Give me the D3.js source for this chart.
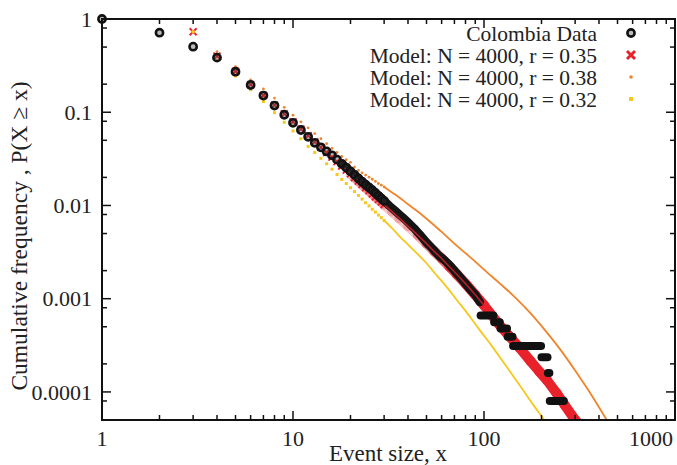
<!DOCTYPE html>
<html>
<head>
<meta charset="utf-8">
<script src="https://cdn.jsdelivr.net/npm/d3@7"></script>
<style>
  body { margin: 0; background: #fff; }
  svg { display: block; }
</style>
</head>
<body>
<script>
// Colombia data: P(X >= x) at each event size
const dataX = [1,2,3,4,5,6,7,8,9,10,11,12,13,14,15,16,17,18,19,20,21,22,23,24,25,26,27,28,29,30,
  32,34,36,38,40,43,46,50,54,58,62,66,70,75,80,85,90,95];
const dataP = [1,0.713,0.505,0.385,0.272,0.196,0.151,0.118,0.094,0.077,0.0645,0.0545,0.047,0.042,0.038,
  0.0345,0.031,0.028,0.0255,0.0232,0.0213,0.0195,0.018,0.0167,0.0156,0.0146,0.0136,0.0127,0.0119,0.0112,
  0.0099,0.0089,0.008,0.0073,0.0066,0.0057,0.0049,0.004,0.0034,0.0029,0.0026,0.0023,0.002,0.0017,
  0.00145,0.00125,0.0011,0.00092];
// tail plateaus of the data (from, to, P)
const stepFrom = [96,113,122,133,142,200,216,221];
const stepTo   = [112,121,132,141,199,215,220,262];
const stepP    = [6.6e-4,5.6e-4,4.8e-4,3.9e-4,3.1e-4,2.35e-4,1.6e-4,8e-5];

// Model N = 4000, r = 0.35
const redX = [3,4,5,6,7,8,9,10,11,12,13,14,15,16,17,18,19,20,21,22,23,24,25,26,27,28,29,30,
  33,36,40,45,50,55,60,66,72,80,90,100,107,120,135,154,175,195,214,240,265,292,320];
const redP = [0.73,0.40,0.275,0.198,0.152,0.119,0.096,0.079,0.066,0.056,0.048,0.042,0.037,0.033,0.0295,
  0.0265,0.024,0.0218,0.0199,0.0182,0.0168,0.0155,0.0144,0.0133,0.0124,0.0116,0.0109,0.0102,
  0.0086,0.0073,0.006,0.0048,0.0039,0.0032,0.0027,0.0022,0.00183,0.00145,0.0011,0.00085,0.00071,
  0.00053,0.0004,0.000295,0.000215,0.000165,0.000133,0.000097,0.000072,0.000054,0.000043];

// Model N = 4000, r = 0.38
const orangeX = [3,4,5,6,7,8,9,10,11,12,13,14,15,16,17,18,19,20,21,22,23,24,25,26,27,28,29,30,
  33,36,40,45,50,55,60,70,80,90,100,120,145,175,210,250,300,350,400,446,480];
const orangeP = [0.73,0.446,0.308,0.222,0.178,0.142,0.113,0.093,0.079,0.068,0.059,0.052,0.046,0.041,0.037,
  0.0335,0.031,0.029,0.0258,0.0238,0.0224,0.0212,0.0201,0.0191,0.0181,0.0172,0.0165,0.0158,
  0.0138,0.0122,0.0103,0.0086,0.0072,0.0061,0.0052,0.0039,0.00308,0.0025,0.00205,0.00148,0.00104,
  0.00070,0.000452,0.000288,0.00017,0.000106,0.0000685,0.0000475,0.000037];

// Model N = 4000, r = 0.32
const yellowX = [3,4,5,6,7,8,9,10,11,12,13,14,15,16,17,18,19,20,21,22,23,24,25,26,27,28,29,30,
  33,36,40,45,50,55,60,66,72,80,88,95,110,125,140,160,180,204,220];
const yellowP = [0.73,0.36,0.245,0.174,0.13,0.099,0.078,0.063,0.052,0.043,0.037,0.032,0.028,0.0245,0.0215,
  0.019,0.0172,0.0155,0.0141,0.0128,0.0117,0.0107,0.0099,0.0091,0.0085,0.0079,0.0074,0.0069,
  0.0057,0.0047,0.0038,0.003,0.0024,0.0019,0.00155,0.00122,0.00097,0.00074,0.00057,0.00046,
  0.00031,0.000215,0.000155,0.000105,0.000074,0.000052,0.000042];

const xTicks = [1,10,100,1000];
const xTickLabels = ["1","10","100","1000"];
const yTicks = [1,0.1,0.01,0.001,0.0001];
const yTickLabels = ["1","0.1","0.01","0.001","0.0001"];
const legendLabels = ["Colombia Data","Model: N = 4000, r = 0.35","Model: N = 4000, r = 0.38","Model: N = 4000, r = 0.32"];

const W = 677, H = 465;
const red = "#e8212b", orange = "#f0842a", yellow = "#f6c81c";
const font = "Liberation Serif, Times New Roman, serif";

const x = d3.scaleLog().domain([1,1000]).range([102,675]);
const y = d3.scaleLog().domain([5e-5,1]).range([420,19]);

const svg = d3.select("body").append("svg").attr("width", W).attr("height", H);
svg.append("rect").attr("width", W).attr("height", H).attr("fill", "#fff");

svg.append("clipPath").attr("id","plot")
  .append("rect").attr("x",102).attr("y",19).attr("width",573).attr("height",401);

const zip = (xs, ps) => xs.map((v,i) => ({x:v, p:ps[i]}));
const data = zip(dataX, dataP);
const redPts = zip(redX, redP);
const orangePts = zip(orangeX, orangeP);
const yellowPts = zip(yellowX, yellowP);
const line = d3.line().x(d => x(d.x)).y(d => y(d.p));
const smooth = d3.line().x(d => x(d.x)).y(d => y(d.p)).curve(d3.curveMonotoneX);

const g = svg.append("g").attr("clip-path","url(#plot)");

// red model: dense x marks become a solid band at large x
const redSeg = d3.pairs(redPts).filter(([a]) => a.x >= 20);
g.selectAll(".rband").data(redSeg).join("line")
  .attr("x1", ([a]) => x(a.x)).attr("y1", ([a]) => y(a.p))
  .attr("x2", ([,b]) => x(b.x)).attr("y2", ([,b]) => y(b.p))
  .attr("stroke", red).attr("stroke-width", 10).attr("stroke-linecap","round")
  .attr("stroke-opacity", ([a]) => Math.max(0.25, Math.min(1, (Math.log10(a.x) - 1.5) / 0.4)));
const xMark = "M-3.5,-3.5L3.5,3.5M-3.5,3.5L3.5,-3.5";
g.selectAll(".rx").data(redPts.filter(d => d.x <= 30)).join("path")
  .attr("d", xMark).attr("transform", d => `translate(${x(d.x)},${y(d.p)})`)
  .attr("stroke", red).attr("stroke-width", 1.8).attr("fill","none");

// orange model
g.append("path").datum(orangePts.filter(d => d.x >= 30))
  .attr("d", smooth).attr("fill","none").attr("stroke", orange).attr("stroke-width", 1.8);
g.selectAll(".od").data(orangePts.filter(d => d.x <= 30)).join("circle")
  .attr("cx", d => x(d.x)).attr("cy", d => y(d.p)).attr("r", 1.4).attr("fill", orange);

// yellow model
g.append("path").datum(yellowPts.filter(d => d.x >= 30))
  .attr("d", smooth).attr("fill","none").attr("stroke", yellow).attr("stroke-width", 1.8);
g.selectAll(".ys").data(yellowPts.filter(d => d.x <= 30)).join("rect")
  .attr("x", d => x(d.x) - 1.5).attr("y", d => y(d.p) - 1.5)
  .attr("width", 3).attr("height", 3).attr("fill", yellow);

// data on top: dense rings merge into a dark band, red shows through their holes
g.append("path").datum(data.filter(d => d.x >= 18))
  .attr("d", line).attr("fill","none").attr("stroke","#151515")
  .attr("stroke-width", 8.5).attr("stroke-linejoin","round").attr("stroke-linecap","round");
g.append("path").datum(redPts.filter(d => d.x >= 18 && d.x <= 100))
  .attr("d", line).attr("fill","none").attr("stroke", "#c8202a").attr("stroke-width", 1.6)
  .attr("stroke-opacity", 0.9);
g.selectAll(".step").data(stepP).join("line")
  .attr("x1", (p,i) => x(stepFrom[i])).attr("x2", (p,i) => x(stepTo[i]))
  .attr("y1", p => y(p)).attr("y2", p => y(p))
  .attr("stroke","#111").attr("stroke-width",8).attr("stroke-linecap","round");
svg.selectAll(".ring").data(data.filter(d => d.x <= 30)).join("circle")
  .attr("cx", d => x(d.x)).attr("cy", d => y(d.p)).attr("r", 3.6)
  .attr("fill","rgba(60,60,60,0.35)").attr("stroke","#121212").attr("stroke-width",2.6);

// frame and ticks (inward, mirrored)
const ax = svg.append("g").attr("stroke","#111").attr("stroke-width",1.5);
const xMinor = [1,10,100].flatMap(d => d3.range(2,10).map(k => k*d));
const yMinor = [1e-5,1e-4,1e-3,1e-2,0.1].flatMap(d => [2,5,8].map(k => k*d)).filter(v => v > 5.01e-5 && v < 1);
xTicks.forEach(v => {
  ax.append("line").attr("x1",x(v)).attr("x2",x(v)).attr("y1",420).attr("y2",411);
  ax.append("line").attr("x1",x(v)).attr("x2",x(v)).attr("y1",19).attr("y2",28);
});
xMinor.forEach(v => {
  ax.append("line").attr("x1",x(v)).attr("x2",x(v)).attr("y1",420).attr("y2",415);
  ax.append("line").attr("x1",x(v)).attr("x2",x(v)).attr("y1",19).attr("y2",24);
});
yTicks.forEach(v => {
  ax.append("line").attr("y1",y(v)).attr("y2",y(v)).attr("x1",102).attr("x2",111);
  ax.append("line").attr("y1",y(v)).attr("y2",y(v)).attr("x1",675).attr("x2",666);
});
yMinor.forEach(v => {
  ax.append("line").attr("y1",y(v)).attr("y2",y(v)).attr("x1",102).attr("x2",107);
  ax.append("line").attr("y1",y(v)).attr("y2",y(v)).attr("x1",675).attr("x2",670);
});
svg.append("rect").attr("x",102).attr("y",19).attr("width",573).attr("height",401)
  .attr("fill","none").attr("stroke","#111").attr("stroke-width",2);

const txt = svg.append("g").attr("font-family", font).attr("font-size", 22).attr("fill","#222");
txt.selectAll(".xl").data(xTicks).join("text")
  .attr("x", (v,i) => i === 3 ? 673 : x(v)).attr("y", 446)
  .attr("text-anchor", (v,i) => i === 3 ? "end" : "middle")
  .text((v,i) => xTickLabels[i]);
txt.selectAll(".yl").data(yTicks).join("text")
  .attr("x", 92).attr("y", v => y(v)).attr("dy","0.35em").attr("text-anchor","end")
  .text((v,i) => yTickLabels[i]);
txt.append("text").attr("x", 388).attr("y", 461).attr("text-anchor","middle")
  .attr("font-size", 23).text("Event size, x");
txt.append("text").attr("transform","translate(27,236) rotate(-90)").attr("text-anchor","middle")
  .attr("font-size", 23.5).text("Cumulative frequency , P(X \u2265 x)");

// legend
const leg = svg.append("g");
legendLabels.forEach((t,i) => {
  const ly = 33 + i * 22;
  leg.append("text").attr("x", 597).attr("y", ly).attr("dy","0.35em").attr("text-anchor","end")
    .attr("font-family", font).attr("font-size", 21.5).attr("fill","#222").text(t);
  const sx = 631;
  if (i === 0) leg.append("circle").attr("cx",sx).attr("cy",ly).attr("r",3.6)
    .attr("fill","rgba(60,60,60,0.35)").attr("stroke","#121212").attr("stroke-width",2.6);
  if (i === 1) leg.append("path").attr("d", "M-4,-4L4,4M-4,4L4,-4").attr("transform",`translate(${sx},${ly})`)
    .attr("stroke", red).attr("stroke-width", 3).attr("fill","none");
  if (i === 2) leg.append("circle").attr("cx",sx).attr("cy",ly).attr("r",1.8).attr("fill",orange);
  if (i === 3) leg.append("rect").attr("x",sx-2).attr("y",ly-2).attr("width",4).attr("height",4).attr("fill",yellow);
});
</script>
</body>
</html>
